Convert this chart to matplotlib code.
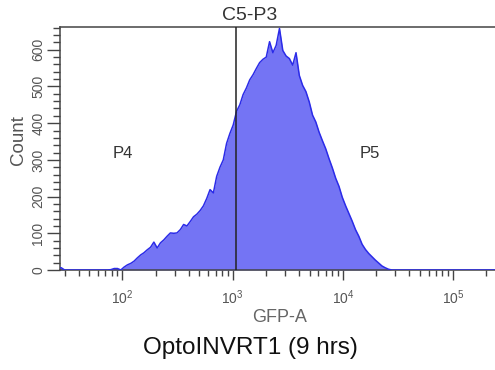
import numpy as np
import matplotlib
matplotlib.use("Agg")
import matplotlib.pyplot as plt
from matplotlib.ticker import FixedLocator, LogFormatterMathtext, NullFormatter

plt.rcParams['font.family'] = ['Liberation Sans', 'DejaVu Sans']

# histogram bins: log10 lower edges start at 1.43, width 0.03 decades
log_start = 1.43
log_step = 0.03
counts = [6, 0, 0, 0, 0, 0, 0, 0, 0, 0,
          0, 0, 0, 0, 0, 1, 4, 4, 0, 8,
          14, 18, 24, 33, 41, 47, 55, 62, 76, 60,
          74, 82, 92, 101, 100, 101, 110, 124, 120, 132,
          145, 152, 162, 175, 195, 219, 210, 255, 280, 300,
          345, 372, 395, 432, 450, 478, 496, 518, 532, 549,
          565, 574, 580, 622, 592, 612, 658, 598, 583, 576,
          558, 592, 530, 503, 486, 458, 422, 403, 375, 352,
          330, 303, 278, 250, 228, 198, 175, 154, 133, 110,
          92, 70, 56, 45, 36, 27, 19, 11, 6, 2,
          0, 0]

gate_x = 1070          # C5-P3 divider
y_major = [0, 100, 200, 300, 400, 500, 600]
x_major = [1e2, 1e3, 1e4, 1e5]

centers = 10 ** (log_start + log_step * (np.arange(len(counts)) + 0.5))
xs = np.concatenate([[10 ** log_start], centers, [10 ** 5.4]])
ys = np.concatenate([[counts[0]], counts, [0]])

fig = plt.figure(figsize=(4.95, 3.7), dpi=100)
ax = fig.add_axes([60 / 495, 1 - 270 / 370, 1 - 60 / 495, 243 / 370])

ax.fill_between(xs, ys, 0, color='#7474f4', lw=0, zorder=2)
ax.plot(xs, ys, color='#2b2be8', lw=1.1, zorder=3)
ax.axvline(gate_x, color='#222222', lw=1.1, zorder=4)

ax.set_xscale('log')
ax.set_xlim(10 ** 1.433, 10 ** 5.381)
ax.set_ylim(0, 662)

ax.spines['right'].set_visible(False)
for s in ['top', 'left', 'bottom']:
    ax.spines[s].set_color('#444444')
    ax.spines[s].set_linewidth(1.1)

minor_x = [m * 10 ** d for d in range(1, 6) for m in range(2, 10)]
ax.xaxis.set_major_locator(FixedLocator(x_major))
ax.xaxis.set_major_formatter(LogFormatterMathtext())
ax.xaxis.set_minor_locator(FixedLocator(minor_x))
ax.xaxis.set_minor_formatter(NullFormatter())
ax.tick_params(axis='x', which='major', length=7, width=1, colors='#444444',
               labelcolor='#555555', labelsize=10, pad=6)
ax.tick_params(axis='x', which='minor', length=4.5, width=1, colors='#444444')

ax.yaxis.set_major_locator(FixedLocator(y_major))
ax.yaxis.set_minor_locator(FixedLocator(list(range(0, 661, 20))))
ax.tick_params(axis='y', which='major', length=9.5, width=1, colors='#444444',
               labelcolor='#555555', labelsize=10, pad=1)
ax.tick_params(axis='y', which='minor', length=5, width=1, colors='#444444')
for lab in ax.get_yticklabels():
    lab.set_rotation(90)
    lab.set_va('center')

fig.text(250 / 495, 1 - 15 / 370, 'C5-P3', ha='center', va='center', fontsize=14, color='#333333')
fig.text(123 / 495, 1 - 154 / 370, 'P4', ha='center', va='center', fontsize=12, color='#333333')
fig.text(370 / 495, 1 - 153 / 370, 'P5', ha='center', va='center', fontsize=12, color='#333333')
fig.text(19 / 495, 1 - 140 / 370, 'Count', ha='center', va='center', rotation=90,
         fontsize=13.5, color='#555555')
fig.text(280 / 495, 1 - 317 / 370, 'GFP-A', ha='center', va='center', fontsize=13, color='#666666')
fig.text(250 / 495, 1 - 348 / 370, 'OptoINVRT1 (9 hrs)', ha='center', va='center',
         fontsize=17.5, color='#111111')

fig.savefig('out.png', dpi=100)
